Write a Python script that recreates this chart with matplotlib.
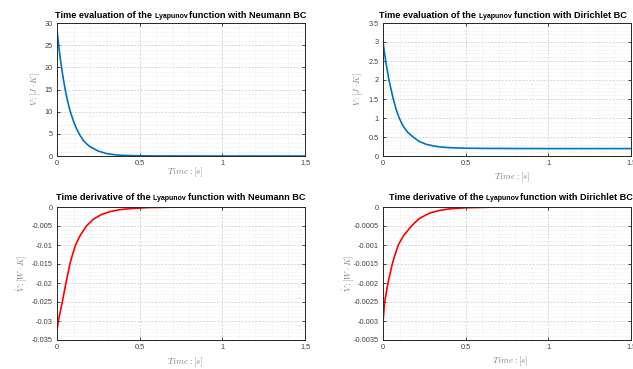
import numpy as np
import matplotlib
matplotlib.use('Agg')
import matplotlib.pyplot as plt
from matplotlib.ticker import MultipleLocator

plt.rcParams['font.family'] = ['Liberation Sans', 'DejaVu Sans']
plt.rcParams['mathtext.fontset'] = 'cm'

# values
t_vn = [0, 0.01, 0.02, 0.03, 0.04, 0.05, 0.06, 0.07, 0.08, 0.1, 0.12, 0.14, 0.16, 0.18, 0.2,
        0.25, 0.3, 0.35, 0.4, 0.5, 0.6, 1.0, 1.5]
v_neumann = [28.4, 25.0, 21.9, 19.3, 17.0, 14.9, 13.1, 11.5, 10.1, 7.8, 6.0, 4.6, 3.5, 2.7, 2.1,
             1.1, 0.55, 0.28, 0.14, 0.04, 0.01, 0.0, 0.0]

t_vd = [0, 0.016, 0.036, 0.062, 0.08, 0.098, 0.12, 0.15, 0.182, 0.22, 0.26, 0.3, 0.342, 0.4,
        0.5, 0.6, 0.8, 1.0, 1.5]
v_dirichlet = [3.0, 2.5, 2.0, 1.5, 1.22, 1.0, 0.8, 0.62, 0.5, 0.38, 0.31, 0.27, 0.24, 0.22,
               0.205, 0.2, 0.197, 0.195, 0.195]

t_dn = [0, 0.008, 0.02, 0.032, 0.043, 0.054, 0.066, 0.078, 0.094, 0.112, 0.14, 0.178, 0.22,
        0.268, 0.32, 0.38, 0.45, 0.55, 0.7, 1.0, 1.5]
dv_neumann = [-0.0324, -0.030, -0.0275, -0.025, -0.0225, -0.020, -0.0175, -0.015, -0.0125, -0.010,
              -0.0075, -0.005, -0.0032, -0.002, -0.0012, -0.0007, -0.0004, -0.00015, -0.00004, 0.0, 0.0]

t_dd = [0, 0.01, 0.02, 0.03, 0.043, 0.056, 0.073, 0.092, 0.125, 0.172, 0.22, 0.282, 0.342, 0.4,
        0.5, 0.7, 1.5]
dv_dirichlet = [-0.00303, -0.0025, -0.00225, -0.0020, -0.00175, -0.0015, -0.00125, -0.0010, -0.00075,
                -0.0005, -0.0003, -0.00016, -0.00009, -0.00005, -0.00002, 0.0, 0.0]

x_ticks = [0, 0.5, 1, 1.5]
gray = '#404040'
label_gray = '#808080'

fig = plt.figure(figsize=(6.33, 3.69), dpi=100)
w, h = 248 / 633, 133 / 369
lefts = [57 / 633, 383 / 633]
bottoms = [1 - 156 / 369, 1 - 340 / 369]

panels = [
    (t_vn, v_neumann, '#0072BD', (0, 30), 1, ['0', '5', '10', '15', '20', '25', '30'],
     r'$V:[J\cdot K]$', 'Time evaluation of the ', 'Neumann BC'),
    (t_vd, v_dirichlet, '#0072BD', (0, 3.5), 0.1, ['0', '0.5', '1', '1.5', '2', '2.5', '3', '3.5'],
     r'$V:[J\cdot K]$', 'Time evaluation of the ', 'Dirichlet BC'),
    (t_dn, dv_neumann, 'red', (-0.035, 0), 0.001,
     ['-0.035', '-0.03', '-0.025', '-0.02', '-0.015', '-0.01', '-0.005', '0'],
     r'$\dot{V}:[W\cdot K]$', 'Time derivative of the ', 'Neumann BC'),
    (t_dd, dv_dirichlet, 'red', (-0.0035, 0), 0.0001,
     ['-0.0035', '-0.003', '-0.0025', '-0.002', '-0.0015', '-0.001', '-0.0005', '0'],
     r'$\dot{V}:[W\cdot K]$', 'Time derivative of the ', 'Dirichlet BC'),
]
ylabel_x = [35, 358, 22, 349]
xlabel_x = [185, 512, 185, 510]
xlabel_y = [172, 177, 362, 361]

axes = []
for i, (tt, vv, col, ylim, minor, ylabels, ylab, t1, t3) in enumerate(panels):
    ax = fig.add_axes([lefts[i % 2], bottoms[i // 2], w, h])
    ax.plot(tt, vv, color=col, lw=1.2)
    ax.set_xlim(0, 1.5)
    ax.set_ylim(*ylim)
    ax.set_xticks(x_ticks)
    ax.set_xticklabels(['0', '0.5', '1', '1.5'])
    ax.yaxis.set_minor_locator(MultipleLocator(minor))
    ax.xaxis.set_minor_locator(MultipleLocator(0.1))
    ax.set_yticks(np.linspace(ylim[0], ylim[1], len(ylabels)))
    ax.set_yticklabels(ylabels)
    ax.tick_params(which='both', direction='in', top=True, right=True, labelsize=5.3,
                   colors='#262626', labelcolor=gray, width=0.6)
    ax.tick_params(which='major', length=2.5, pad=3)
    ax.tick_params(which='minor', length=0)
    ax.grid(which='major', color='#c8c8c8', lw=0.5, ls=(0, (3, 2)))
    ax.grid(which='minor', color='#dcdcdc', lw=0.4, ls=(0, (1, 1.5)))
    ax.set_axisbelow(True)
    for sp in ax.spines.values():
        sp.set_color('#262626')
        sp.set_linewidth(0.7)

    # axis labels placed in figure pixels
    fig.text(ylabel_x[i] / 633, bottoms[i // 2] + h / 2, ylab, rotation=90,
             ha='center', va='center', fontsize=6.2, color=label_gray)
    fig.text(xlabel_x[i] / 633, 1 - xlabel_y[i] / 369, r'$Time:[s]$',
             ha='center', va='center', fontsize=6.5, color=label_gray)
    axes.append((ax, t1, t3))

# titles with a smaller "Lyapunov"
fig.canvas.draw()
renderer = fig.canvas.get_renderer()
title_y = [1 - 18 / 369, 1 - 18 / 369, 1 - 200 / 369, 1 - 200 / 369]
title_cx = [181, 503, 181, 511]
for i, (ax, t1, t3) in enumerate(axes):
    parts = [(t1, 6.6), ('Lyapunov ', 5.0), ('function with ' + t3, 6.6)]
    texts = [fig.text(0, title_y[i], s, fontsize=fs, fontweight='bold', color='black', va='baseline')
             for s, fs in parts]
    widths = [tx.get_window_extent(renderer).width for tx in texts]
    x = title_cx[i] - sum(widths) / 2
    for tx, wd in zip(texts, widths):
        tx.set_x(x / 633)
        x += wd

fig.savefig('out.png', dpi=100)
